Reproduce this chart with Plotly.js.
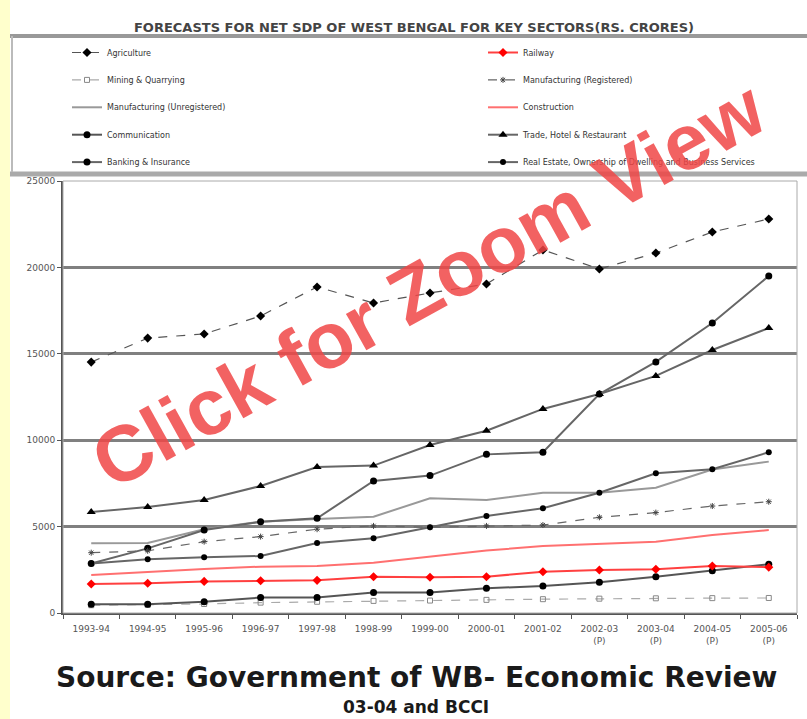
<!DOCTYPE html>
<html>
<head>
<meta charset="utf-8">
<script src="https://cdn.plot.ly/plotly-3.0.1.min.js"></script>
<style>
html,body{margin:0;padding:0;background:#fff;}
#chart{width:807px;height:719px;}
</style>
</head>
<body>
<div id="chart"></div>
<script>
// ---- data (Rs. crores) ----
var years = ["1993-94","1994-95","1995-96","1996-97","1997-98","1998-99","1999-00","2000-01","2001-02","2002-03<br>(P)","2003-04<br>(P)","2004-05<br>(P)","2005-06<br>(P)"];

var agriculture    = [14520,15910,16150,17190,18870,17940,18520,19040,21010,19910,20830,22050,22800];
var railway        = [1680,1720,1830,1870,1890,2100,2070,2100,2390,2490,2530,2720,2650];
var mining         = [450,470,520,600,650,700,720,760,800,830,850,860,870];
var manufReg       = [3490,3600,4130,4420,4850,5040,4960,5040,5090,5540,5810,6190,6440];
var manufUnreg     = [4030,4050,4850,5280,5440,5570,6640,6540,6960,6960,7250,8300,8760];
var construction   = [2200,2390,2550,2680,2720,2910,3260,3610,3880,3990,4130,4510,4800];
var communication  = [500,500,650,890,890,1180,1180,1430,1560,1780,2100,2450,2820];
var trade          = [5840,6130,6540,7350,8450,8530,9720,10550,11810,12670,13720,15220,16490];
var banking        = [2870,3740,4800,5280,5480,7640,7950,9180,9300,12670,14530,16780,19500];
var realEstate     = [2870,3110,3220,3300,4050,4320,4960,5610,6060,6960,8090,8320,9300];

var yTicks = [0,5000,10000,15000,20000,25000];

// ---- traces ----
function tr(name, y, line, marker, legend, grp){
  var t = {type:'scatter', x:years, y:y, name:name, line:line,
           legend:legend, legendgroup:grp, mode: marker ? 'lines+markers' : 'lines'};
  if (marker) t.marker = marker;
  return t;
}
var traces = [
  tr('Agriculture', agriculture, {color:'#555', width:1.2, dash:'dash'}, {symbol:'diamond', size:7, color:'#000'}, 'legend', 'g1'),
  tr('Mining & Quarrying', mining, {color:'#aaa', width:1.2, dash:'dash'}, {symbol:'square-open', size:5, color:'#888'}, 'legend', 'g2'),
  tr('Manufacturing (Unregistered)', manufUnreg, {color:'#999', width:2}, null, 'legend', 'g3'),
  tr('Communication', communication, {color:'#555', width:2}, {symbol:'circle', size:7, color:'#000'}, 'legend', 'g4'),
  tr('Banking & Insurance', banking, {color:'#666', width:2}, {symbol:'circle', size:7, color:'#000'}, 'legend', 'g5'),
  tr('Railway', railway, {color:'#ff4040', width:2}, {symbol:'diamond', size:7, color:'#ff0000'}, 'legend2', 'h1'),
  tr('Manufacturing (Registered)', manufReg, {color:'#666', width:1.2, dash:'dash'}, {symbol:'asterisk-open', size:5, color:'#444', line:{width:1,color:'#444'}}, 'legend2', 'h2'),
  tr('Construction', construction, {color:'#ff7070', width:2}, null, 'legend2', 'h3'),
  tr('Trade, Hotel & Restaurant', trade, {color:'#666', width:2}, {symbol:'triangle-up', size:8, color:'#000'}, 'legend2', 'h4'),
  tr('Real Estate, Ownership of Dwelling and Business Services', realEstate, {color:'#666', width:2}, {symbol:'circle', size:6, color:'#000'}, 'legend2', 'h5')
];

// ---- layout helpers (pixel -> paper) ----
var L=63, R=10, T=181, B=106, W=807, H=719;
var pw=W-L-R, ph=H-T-B;
function px(x){return (x-L)/pw;}
function py(y){return (H-B-y)/ph;}

var FONT = 'DejaVu Sans, Verdana, sans-serif';

var layout = {
  width:W, height:H,
  margin:{l:L, r:R, t:T, b:B},
  paper_bgcolor:'#ffffff', plot_bgcolor:'#ffffff',
  font:{family:FONT, color:'#333'},
  title:{text:'<b>FORECASTS FOR NET SDP OF WEST BENGAL FOR KEY SECTORS(RS. CRORES)</b>',
         x:414/W, xanchor:'center', y:1-27/H, yanchor:'middle',
         font:{size:13, color:'#444', family:FONT}},
  xaxis:{type:'category', range:[-0.5,12.5], showgrid:false, showline:true, linecolor:'#555', linewidth:2,
         ticks:'outside', tickson:'boundaries', ticklen:4, tickcolor:'#555', ticklabelstandoff:6,
         tickfont:{size:9, color:'#555', family:FONT}, tickangle:0, fixedrange:true},
  yaxis:{range:[0,25000], tickvals:yTicks, ticktext:yTicks.map(String), showgrid:true, gridcolor:'#808080', gridwidth:3,
         showline:true, linecolor:'#555', linewidth:2, ticks:'outside', ticklen:4, tickcolor:'#555',
         zeroline:false, tickfont:{size:9, color:'#555', family:FONT}, fixedrange:true},
  legend:{x:px(67), y:py(38), xanchor:'left', yanchor:'top', bgcolor:'rgba(0,0,0,0)',
          font:{size:8, color:'#333', family:FONT}, tracegroupgap:8.4, itemwidth:30, traceorder:'grouped'},
  legend2:{x:px(483), y:py(38), xanchor:'left', yanchor:'top', bgcolor:'rgba(0,0,0,0)',
          font:{size:8, color:'#333', family:FONT}, tracegroupgap:8.4, itemwidth:30, traceorder:'grouped'},
  shapes:[
    // pale yellow strip at left
    {type:'rect', xref:'paper', yref:'paper', x0:px(0), x1:px(10), y0:py(H), y1:py(0),
     fillcolor:'#ffffcc', line:{width:0}, layer:'below'},
    // legend frame
    {type:'line', xref:'paper', yref:'paper', x0:px(10), x1:px(807), y0:py(36), y1:py(36), line:{color:'#999', width:4}},
    {type:'line', xref:'paper', yref:'paper', x0:px(10), x1:px(807), y0:py(174), y1:py(174), line:{color:'#aaa', width:5}},
    {type:'line', xref:'paper', yref:'paper', x0:px(12), x1:px(12), y0:py(36), y1:py(172), line:{color:'#bbb', width:2}},
    // plot frame
    {type:'rect', xref:'paper', yref:'paper', x0:0, x1:1, y0:0, y1:1, line:{color:'#aaa', width:1}, fillcolor:'rgba(0,0,0,0)'}
  ],
  annotations:[
    {xref:'paper', yref:'paper', x:px(428), y:py(284), xanchor:'center', yanchor:'middle',
     text:'<b>Click for Zoom View</b>', textangle:-29, showarrow:false,
     font:{size:79, color:'rgba(240,70,70,0.85)', family:'Liberation Sans, Arial, sans-serif'}},
    {xref:'paper', yref:'paper', x:px(416), y:py(677), xanchor:'center', yanchor:'middle',
     text:'<b>Source: Government of WB- Economic Review</b>', showarrow:false,
     font:{size:28, color:'#1a1a1a', family:FONT}},
    {xref:'paper', yref:'paper', x:px(416), y:py(707), xanchor:'center', yanchor:'middle',
     text:'<b>03-04 and BCCI</b>', showarrow:false,
     font:{size:17, color:'#1a1a1a', family:FONT}}
  ],
  showlegend:true,
  hovermode:false
};

Plotly.newPlot('chart', traces, layout, {displayModeBar:false, staticPlot:true});
</script>
</body>
</html>
